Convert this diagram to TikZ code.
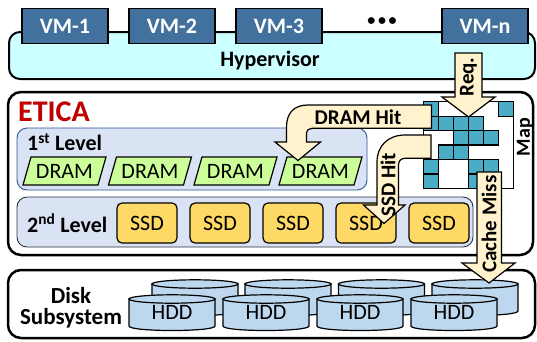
\documentclass[tikz,border=0pt]{standalone}
\usepackage{fontspec}
\setmainfont{Carlito}
\definecolor{vmblue}{HTML}{41719C}
\definecolor{hypercyan}{HTML}{CCFFFF}
\definecolor{levelblue}{HTML}{DAE3F3}
\definecolor{levelborder}{HTML}{2F5597}
\definecolor{leveltwoborder}{HTML}{303040}
\definecolor{dramgreen}{HTML}{CCFF99}
\definecolor{ssdgold}{HTML}{FFD966}
\definecolor{hddblue}{HTML}{BDD7EE}
\definecolor{arrowcream}{HTML}{FFF2CC}
\definecolor{mapteal}{HTML}{4BACC6}
\definecolor{eticared}{HTML}{C00000}
\begin{document}
\begin{tikzpicture}[x=1pt,y=-1pt,
  vm/.style={draw=black, line width=1.8pt, fill=vmblue, text=white, font=\bfseries\fontsize{22}{24}\selectfont, minimum width=86pt, minimum height=35pt, inner sep=0pt},
  lbl/.style={font=\bfseries\fontsize{22}{24}\selectfont, inner sep=0pt},
  dramtxt/.style={font=\fontsize{22}{24}\selectfont, inner sep=0pt},
  ssd/.style={draw=black, line width=1.2pt, fill=ssdgold, rounded corners=5pt, minimum width=60pt, minimum height=40pt, inner sep=0pt, font=\fontsize{22}{24}\selectfont},
  hddbody/.style={draw=black, line width=1.2pt, fill=hddblue},
  arr/.style={draw=black, line width=1.2pt, fill=arrowcream, line join=miter},
  arrlbl/.style={font=\bfseries\fontsize{21}{23}\selectfont, inner sep=0pt},
  cell/.style={draw=black, line width=1.3pt, fill=mapteal},
  bigbox/.style={draw=black, line width=2.5pt, rounded corners=13pt, fill=white}
]
\useasboundingbox (0,0) rectangle (537,341);
% Hypervisor
\draw[line width=2pt, fill=hypercyan, rounded corners=11pt] (9,32) rectangle (535,79);
\node[lbl] (hyp) at (270,61) {Hypervisor};
% VMs
\node[vm] (vm1) at (65,26) {VM-1};
\node[vm] (vm2) at (172,26) {VM-2};
\node[vm] (vm3) at (279,26) {VM-3};
\node[vm] (vmn) at (485,26) {VM-n};
\node[lbl] (dots) at (382,22) {\fontsize{16}{16}\selectfont\textbullet\,\textbullet\,\textbullet};
% ETICA
\draw[bigbox] (8,92) rectangle (533,255);
\node[anchor=west, inner sep=0pt, text=eticared, font=\bfseries\fontsize{30}{32}\selectfont] (etica) at (18,112) {ETICA};
% first level
\draw[fill=levelblue, draw=levelborder, line width=0.9pt, rounded corners=10pt] (17,128) rectangle (367,190);
\node[lbl, anchor=west] (l1) at (27,142) {1\textsuperscript{st} Level};
\foreach \i/\x in {1/23,2/108.5,3/194,4/279} {
  \draw[fill=dramgreen, line width=1.2pt] (\x,185) -- ++(75,0) -- ++(8,-28) -- ++(-75,0) -- cycle;
  \node[dramtxt] (dram\i) at ({\x+41.5},171) {DRAM};
}
% second level
\draw[fill=levelblue, draw=leveltwoborder, line width=0.9pt, rounded corners=10pt] (17,197) rectangle (473,247);
\node[lbl, anchor=west] (l2) at (27,223) {2\textsuperscript{nd} Level};
\foreach \i/\x in {1/147,2/220,3/293,4/366,5/439} {
  \node[ssd] (ssd\i) at (\x,223) {SSD};
}
% map grid
\draw[fill=white, line width=1.3pt] (423.3,101.7) rectangle (513.3,188.4);
\foreach \c/\r in {0/0,5/0,0/1,1/1,2/1,3/1,2/2,3/2,4/2,1/3,2/3,0/4,3/4,4/4,0/5,3/5} {
  \draw[cell] ({423.3+15*\c},{101.7+14.45*\r}) rectangle ++(15,14.45);
}
\node[lbl, rotate=90, font=\bfseries\fontsize{20}{22}\selectfont] (map) at (525,137) {Map};
% disk subsystem
\draw[bigbox] (8,270) rectangle (535,338);
\node[lbl, align=center, font=\bfseries\fontsize{23}{21}\selectfont] (disk) at (71,308) {Disk\\Subsystem};
\foreach \i/\x in {1/152,2/245,3/338.5,4/432} {
  \draw[hddbody] (\x,284) -- (\x,311) .. controls (\x,317) and ({\x+86},317) .. ({\x+86},311) -- ({\x+86},284) -- cycle;
  \draw[hddbody] ({\x+43},284) ellipse [x radius=43, y radius=4.2];
}
\foreach \i/\x in {1/129,2/223,3/317,4/411} {
  \draw[hddbody] (\x,299) -- (\x,326) .. controls (\x,332) and ({\x+86},332) .. ({\x+86},326) -- ({\x+86},299) -- cycle;
  \draw[hddbody] ({\x+43},299) ellipse [x radius=43, y radius=4.2];
  \node[dramtxt] (hdd\i) at ({\x+43},312) {HDD};
}
% arrows
\draw[arr] (431.5,105) -- (308,105) .. controls (294,105) and (286.5,113) .. (286.5,127) -- (286.5,142) -- (275,142) -- (298,160.5) -- (320.5,142) -- (306.5,142) -- (306.5,134) .. controls (306.5,130) and (309,128.3) .. (312,128.3) -- (431.5,128.3) -- cycle;
\node[arrlbl] (dhit) at (358,117) {DRAM Hit};
\draw[arr] (431,135) -- (405,135) .. controls (388,135) and (377,146) .. (377,162) -- (377,205) -- (363.5,205) -- (384,223.5) -- (405,205) -- (398.5,205) -- (398.5,165) .. controls (398.5,161) and (401,158.3) .. (405,158.3) -- (431,158.3) -- cycle;
\node[arrlbl, rotate=90] (shit) at (388,185) {SSD Hit};
\draw[arr] (455,53) -- (482,53) -- (482,97) -- (495,97) -- (468.5,117) -- (442,97) -- (455,97) -- cycle;
\node[arrlbl, rotate=90] (req) at (468.5,77) {Req.};
\draw[arr] (477,172) -- (501.5,172) -- (501.5,263) -- (515,263) -- (489,283) -- (462,263) -- (477,263) -- cycle;
\node[arrlbl, rotate=90] (miss) at (489,224) {Cache Miss};
\end{tikzpicture}
\end{document}
